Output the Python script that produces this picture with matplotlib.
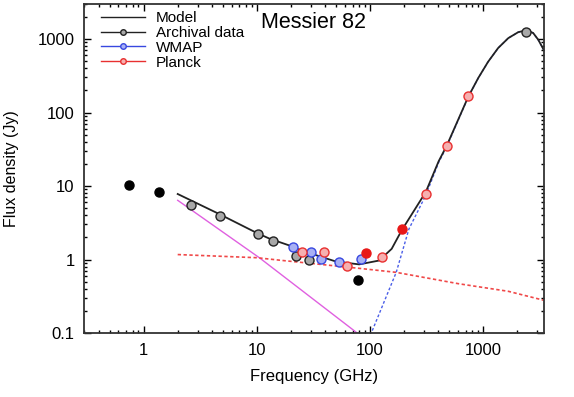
import matplotlib
matplotlib.use("Agg")
import matplotlib.pyplot as plt
from matplotlib.lines import Line2D

plt.rcParams['font.family'] = ['Liberation Sans', 'DejaVu Sans']

# ---- data (GHz, Jy) ----
arch_open_f = [2.6, 4.7, 10.2, 14, 22, 29, 2400]
arch_open_s = [5.6, 3.9, 2.2, 1.8, 1.13, 0.99, 1250]
arch_fill_f = [0.74, 1.38, 78]
arch_fill_s = [10.5, 8.3, 0.52]

wmap_f = [21, 30, 37, 53, 83]
wmap_s = [1.5, 1.26, 1.03, 0.94, 1.03]

planck_open_f = [25, 39, 63, 127, 310, 473, 738]
planck_open_s = [1.28, 1.28, 0.83, 1.08, 7.8, 35, 166]
planck_fill_f = [92, 190]
planck_fill_s = [1.22, 2.6]

model_f = [2, 4.6, 10, 13, 19.5, 25, 35, 50, 80, 120, 155, 190, 250, 310,
           403, 473, 738, 903, 1100, 1350, 1660, 2030, 2400, 2750, 3050, 3400]
model_s = [7.8, 4.2, 2.3, 1.92, 1.55, 1.32, 1.12, 0.94, 0.86, 0.97, 1.4, 2.5,
           4.9, 8.3, 21.8, 35, 166, 297, 490, 755, 1030, 1240, 1320, 1210, 980, 720]

sync_f = [2, 10.6, 77, 100]
sync_s = [6.4, 1.05, 0.1, 0.075]

ff_f = [2, 10, 16, 80, 170, 600, 1660, 3400]
ff_s = [1.17, 1.06, 0.98, 0.76, 0.67, 0.47, 0.37, 0.28]

dust_f = [95, 105, 170, 220, 310, 403, 473, 738, 903, 1100, 1350, 1660, 2030, 2400, 2750, 3050, 3400]
dust_s = [0.07, 0.11, 0.67, 2.6, 7.5, 21, 34, 165, 296, 489, 754, 1029, 1239, 1319, 1209, 979, 719]

fig = plt.figure(figsize=(5.74, 3.97), dpi=100)
ax = fig.add_axes([0.147, 0.161, 0.800, 0.829])

ax.plot(sync_f, sync_s, color='#e060e0', lw=1.0)
ax.plot(ff_f, ff_s, color='#f04848', lw=1.2, ls=(0, (2, 1.5)))
ax.plot(dust_f, dust_s, color='#4a5ee8', lw=1.0, ls=(0, (2, 1.5)))
ax.plot(model_f, model_s, color='#222222', lw=1.3)

ms = 6.5
ax.plot(arch_open_f, arch_open_s, 'o', ms=ms, mfc='#a8a8a8', mec='#222222', mew=1.0, ls='none')
ax.plot(arch_fill_f, arch_fill_s, 'o', ms=ms, mfc='black', mec='black', ls='none')
ax.plot(wmap_f, wmap_s, 'o', ms=ms, mfc='#a8b0f4', mec='#3848e0', mew=1.0, ls='none')
ax.plot(planck_open_f, planck_open_s, 'o', ms=ms, mfc='#f6b0b0', mec='#e83030', mew=1.0, ls='none')
ax.plot(planck_fill_f, planck_fill_s, 'o', ms=ms, mfc='#e81818', mec='#e81818', ls='none')

ax.set_xscale('log')
ax.set_yscale('log')
ax.set_xlim(0.3, 3400)
ax.set_ylim(0.1, 3000)

ax.set_xticks([1, 10, 100, 1000])
ax.set_xticklabels(['1', '10', '100', '1000'])
ax.set_yticks([0.1, 1, 10, 100, 1000])
ax.set_yticklabels(['0.1', '1', '10', '100', '1000'])
ax.tick_params(which='both', direction='in', top=True, right=True, labelsize=12, width=1.0)
ax.tick_params(which='major', length=5, pad=7)
ax.tick_params(which='minor', length=2.5)
for sp in ax.spines.values():
    sp.set_linewidth(1.3)
    sp.set_color('#333333')

ax.set_xlabel('Frequency (GHz)', fontsize=12, labelpad=8)
ax.set_ylabel('Flux density (Jy)', fontsize=11.5)
ax.yaxis.set_label_coords(-0.143, 0.5)
ax.text(0.385, 0.975, 'Messier 82', transform=ax.transAxes, fontsize=15.5,
        ha='left', va='top')

handles = [
    Line2D([], [], color='#222222', lw=1.0),
    Line2D([], [], color='#222222', lw=1.0, marker='o', ms=4, mfc='#a8a8a8', mec='#222222'),
    Line2D([], [], color='#3848e0', lw=1.0, marker='o', ms=4, mfc='#a8b0f4', mec='#3848e0'),
    Line2D([], [], color='#e83030', lw=1.0, marker='o', ms=4, mfc='#f6b0b0', mec='#e83030'),
]
ax.legend(handles, ['Model', 'Archival data', 'WMAP', 'Planck'], loc='upper left',
          bbox_to_anchor=(0.01, 1.015), frameon=False, fontsize=11, handlelength=2.9,
          handletextpad=0.7, labelspacing=0.05, borderpad=0.3)

fig.savefig('out.png', dpi=100)
